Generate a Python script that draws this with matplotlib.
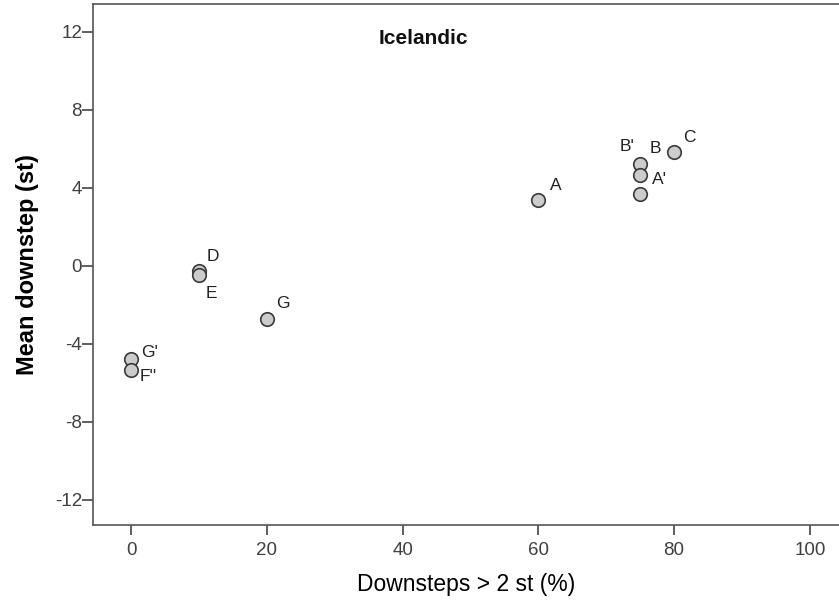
import matplotlib
matplotlib.use("Agg")
import matplotlib.pyplot as plt

plt.rcParams['font.family'] = ['Liberation Sans', 'DejaVu Sans']
plt.rcParams['axes.unicode_minus'] = False

# data
labels = ["A", "B'", "B", "A'", "C", "D", "E", "G", "G'", "F''"]
pct = [60, 75, 75, 75, 80, 10, 10, 20, 0, 0]
downstep = [3.38, 5.23, 4.67, 3.69, 5.85, -0.26, -0.46, -2.72, -4.77, -5.33]
# label offsets in pixels (dx, dy)
offsets = [(17, 14), (-13, 17), (15, 26), (19, 14), (15, 14),
           (14, 14), (12, -19), (16, 15), (18, 6), (17, -7)]

fig = plt.figure(figsize=(8.39, 6.09), dpi=100)
ax = fig.add_axes([0.111, 0.138, 0.889, 0.855])

ax.scatter(pct, downstep, s=95, facecolor='#cccccc', edgecolor='#3a3a3a',
           linewidth=1.2, zorder=3)
for lab, x, y, (dx, dy) in zip(labels, pct, downstep, offsets):
    ax.annotate(lab, (x, y), xytext=(dx, dy), textcoords='offset pixels',
                ha='center', va='center', fontsize=12.5, color='#222222')

ax.set_xlim(-5.6, 104.3)
ax.set_ylim(-13.3, 13.4)
ax.set_xticks([0, 20, 40, 60, 80, 100])
ax.set_yticks([-12, -8, -4, 0, 4, 8, 12])
ax.tick_params(axis='both', direction='out', width=1.2,
               color='#444444', labelsize=13.5, labelcolor='#404040')
ax.tick_params(axis='x', pad=5, length=7.5)
ax.tick_params(axis='y', pad=0, length=8)

for s in ['left', 'bottom', 'top']:
    ax.spines[s].set_color('#555555')
    ax.spines[s].set_linewidth(1.2)
ax.spines['right'].set_visible(False)

ax.text(0.443, 0.935, 'Icelandic', transform=ax.transAxes, ha='center',
        va='center', fontsize=15, fontweight='bold', color='#111111')
ax.set_xlabel('Downsteps > 2 st (%)', fontsize=16.5, labelpad=10)
ax.set_ylabel('Mean downstep (st)', fontsize=17, fontweight='bold', labelpad=11)

fig.savefig('out.png', dpi=100)
